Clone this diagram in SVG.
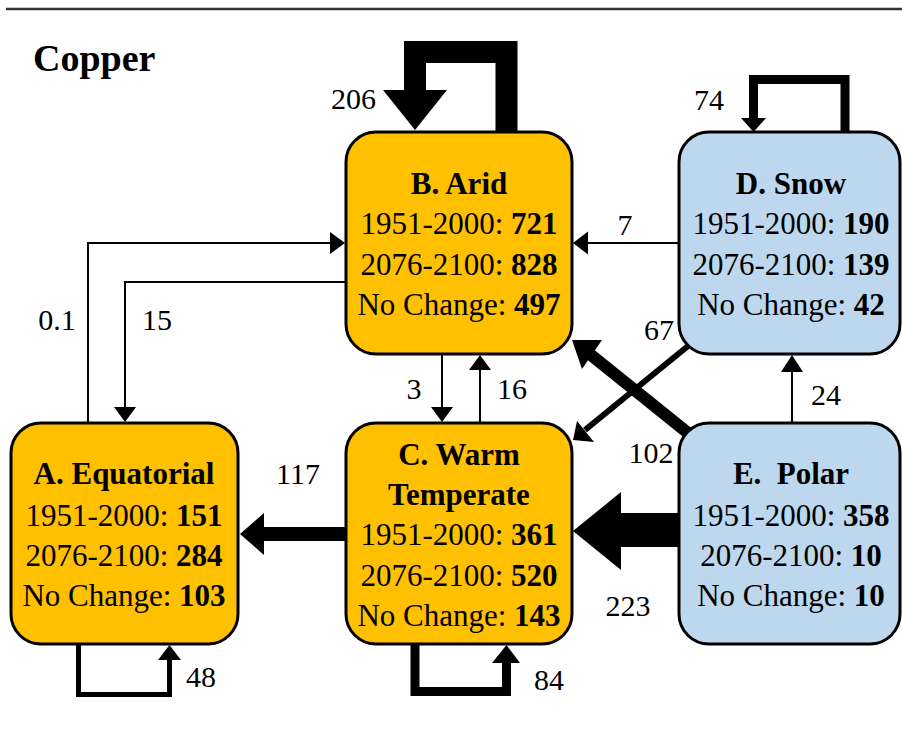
<svg xmlns="http://www.w3.org/2000/svg" width="902" height="746" viewBox="0 0 902 746">
<style>
  .t{font-family:'Liberation Serif','Times New Roman',Times,'DejaVu Serif',serif;font-size:31px;fill:#000;white-space:pre}
  .l{font-size:30px}
  .c{text-anchor:middle}
  .b{font-weight:bold}
  .box{stroke:#000;stroke-width:3}
  .o{fill:#FFC000}
  .s{fill:#BDD7EE}
  .ln{fill:none;stroke:#000;stroke-linejoin:miter}
  .hd{fill:#000;stroke:none}
</style>
<rect width="902" height="746" fill="#fff"/>
<line x1="6" y1="9" x2="902" y2="9" stroke="#333" stroke-width="2.5"/>
<text class="t b" x="33" y="71" style="font-size:38px">Copper</text>

<g id="connectors">
  <path class="ln" d="M506.5,132 V52 H415 V92" stroke-width="22"/>
  <polygon class="hd" points="383,90 447,90 415,130"/>
  <path class="ln" d="M845,132 V79.5 H753.5 V120" stroke-width="9"/>
  <polygon class="hd" points="741,118 766,118 753.5,132"/>
  <path class="ln" d="M78.5,644 V694.5 H169.5 V658" stroke-width="5"/>
  <polygon class="hd" points="158,660 181,660 169.5,645"/>
  <path class="ln" d="M415,644 V691.5 H506.5 V660" stroke-width="9"/>
  <polygon class="hd" points="492,663 520,663 506.5,645"/>
  <path class="ln" d="M88,423 V243 H332" stroke-width="2"/>
  <polygon class="hd" points="330,232 330,254 345,243"/>
  <path class="ln" d="M346,282 H125 V409" stroke-width="2"/>
  <polygon class="hd" points="114,407 136,407 125,422"/>
  <path class="ln" d="M442,355 V409" stroke-width="2"/>
  <polygon class="hd" points="431,407 453,407 442,422"/>
  <path class="ln" d="M480,423 V368" stroke-width="2"/>
  <polygon class="hd" points="469,370 491,370 480,355"/>
  <path class="ln" d="M679,243 H586" stroke-width="2"/>
  <polygon class="hd" points="588,231.5 588,254.5 573,243"/>
  <path class="ln" d="M792,423 V370" stroke-width="2"/>
  <polygon class="hd" points="781,372 803,372 792,355"/>
  <rect x="262" y="527" width="84" height="14" fill="#000"/>
  <polygon class="hd" points="264,513 264,555 240,534"/>
  <rect x="619" y="513" width="60" height="34" fill="#000"/>
  <polygon class="hd" points="621,492 621,570 573,531"/>
  <line class="ln" x1="688" y1="433" x2="591" y2="355" stroke-width="12"/>
  <polygon class="hd" points="572,340 602,340 582,369"/>
  <line class="ln" x1="688" y1="346" x2="585" y2="430" stroke-width="6"/>
  <polygon class="hd" points="573,440 577,421 594,442"/>
</g>

<g id="labels">
  <text class="t l" x="376" y="109" text-anchor="end">206</text>
  <text class="t l c" x="709" y="110">74</text>
  <text class="t l c" x="625" y="235">7</text>
  <text class="t l c" x="57" y="330">0.1</text>
  <text class="t l c" x="157" y="330">15</text>
  <text class="t l c" x="659" y="340">67</text>
  <text class="t l c" x="414" y="399">3</text>
  <text class="t l c" x="512" y="399">16</text>
  <text class="t l c" x="826" y="405">24</text>
  <text class="t l c" x="651" y="463">102</text>
  <text class="t l c" x="298" y="484">117</text>
  <text class="t l c" x="628" y="616">223</text>
  <text class="t l c" x="201" y="687">48</text>
  <text class="t l c" x="549" y="690">84</text>
</g>

<g id="nodeA">
  <rect class="box o" x="11" y="423" width="227" height="221" rx="30"/>
  <text class="t c b" x="124" y="484">A. Equatorial</text>
  <text class="t c" x="124" y="526">1951-2000: <tspan class="b">151</tspan></text>
  <text class="t c" x="124" y="566">2076-2100: <tspan class="b">284</tspan></text>
  <text class="t c" x="124" y="606">No Change: <tspan class="b">103</tspan></text>
</g>
<g id="nodeB">
  <rect class="box o" x="346" y="132" width="226" height="222" rx="30"/>
  <text class="t c b" x="459" y="194">B. Arid</text>
  <text class="t c" x="459" y="234">1951-2000: <tspan class="b">721</tspan></text>
  <text class="t c" x="459" y="275">2076-2100: <tspan class="b">828</tspan></text>
  <text class="t c" x="459" y="315">No Change: <tspan class="b">497</tspan></text>
</g>
<g id="nodeC">
  <rect class="box o" x="346" y="423" width="226" height="221" rx="30"/>
  <text class="t c b" x="459" y="465">C. Warm</text>
  <text class="t c b" x="459" y="505">Temperate</text>
  <text class="t c" x="459" y="545">1951-2000: <tspan class="b">361</tspan></text>
  <text class="t c" x="459" y="586">2076-2100: <tspan class="b">520</tspan></text>
  <text class="t c" x="459" y="626">No Change: <tspan class="b">143</tspan></text>
</g>
<g id="nodeD">
  <rect class="box s" x="679" y="132" width="221" height="222" rx="30"/>
  <text class="t c b" x="791" y="194">D. Snow</text>
  <text class="t c" x="791" y="234">1951-2000: <tspan class="b">190</tspan></text>
  <text class="t c" x="791" y="275">2076-2100: <tspan class="b">139</tspan></text>
  <text class="t c" x="791" y="315">No Change: <tspan class="b">42</tspan></text>
</g>
<g id="nodeE">
  <rect class="box s" x="679" y="423" width="221" height="221" rx="30"/>
  <text class="t c b" x="791" y="484">E.  Polar</text>
  <text class="t c" x="791" y="526">1951-2000: <tspan class="b">358</tspan></text>
  <text class="t c" x="791" y="566">2076-2100: <tspan class="b">10</tspan></text>
  <text class="t c" x="791" y="606">No Change: <tspan class="b">10</tspan></text>
</g>
</svg>
